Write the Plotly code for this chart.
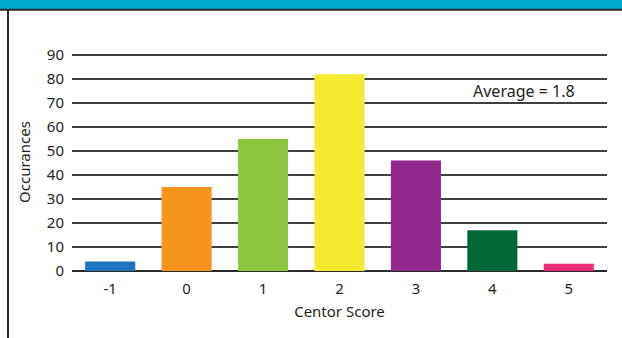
import plotly.graph_objects as go

categories = ["-1", "0", "1", "2", "3", "4", "5"]
occurrences = [4, 35, 55, 82, 46, 17, 3]
bar_colors = ["#1C75BC", "#F7941D", "#8DC63F", "#F5EA2F", "#92278F", "#006838", "#EE2A7B"]
y_ticks = [0, 10, 20, 30, 40, 50, 60, 70, 80, 90]
average_label = "Average = 1.8"

W, H = 622, 338
L, R, T, B = 72, 15, 53, 67
pw, ph = W - L - R, H - T - B
y_top = 90 * ph / 216.0

def px(x):
    return (x - L) / pw

def py(y):
    return (H - B - y) / ph

fig = go.Figure(go.Bar(
    x=categories, y=occurrences, marker_color=bar_colors,
    marker_line_width=0, width=0.655,
))

fig.update_layout(
    width=W, height=H,
    margin=dict(l=L, r=R, t=T, b=B),
    paper_bgcolor="white", plot_bgcolor="white",
    font=dict(family="Noto Sans", color="#231F20", size=15),
    showlegend=False,
    xaxis=dict(
        type="category", range=[-0.5, 6.5], showgrid=False, ticks="",
        tickfont=dict(size=15), ticklabelstandoff=7,
        title=dict(text="Centor Score", font=dict(size=15), standoff=9),
    ),
    yaxis=dict(
        range=[0, y_top], tickvals=y_ticks, showgrid=True,
        gridcolor="#404040", gridwidth=1.5,
        zeroline=True, zerolinecolor="#2A2A2A", zerolinewidth=2,
        ticks="", ticklabelstandoff=7, tickfont=dict(size=15),
        title=dict(text="Occurances", font=dict(size=15), standoff=12),
    ),
    shapes=[
        dict(type="rect", xref="paper", yref="paper",
             x0=px(0), x1=px(W), y0=py(9), y1=py(-2),
             fillcolor="#00A9CE", line_width=0, layer="above"),
        dict(type="line", xref="paper", yref="paper",
             x0=px(0), x1=px(W), y0=py(9.8), y1=py(9.8),
             line=dict(color="#2A2A2A", width=2), layer="above"),
        dict(type="line", xref="paper", yref="paper",
             x0=px(8), x1=px(8), y0=py(9.8), y1=py(H + 2),
             line=dict(color="#2A2A2A", width=2), layer="above"),
    ],
    annotations=[
        dict(text=average_label, xref="paper", yref="paper",
             x=px(524), y=py(91), xanchor="center", yanchor="middle",
             showarrow=False, font=dict(size=16, color="#231F20")),
    ],
)

fig.write_html("out.html")
